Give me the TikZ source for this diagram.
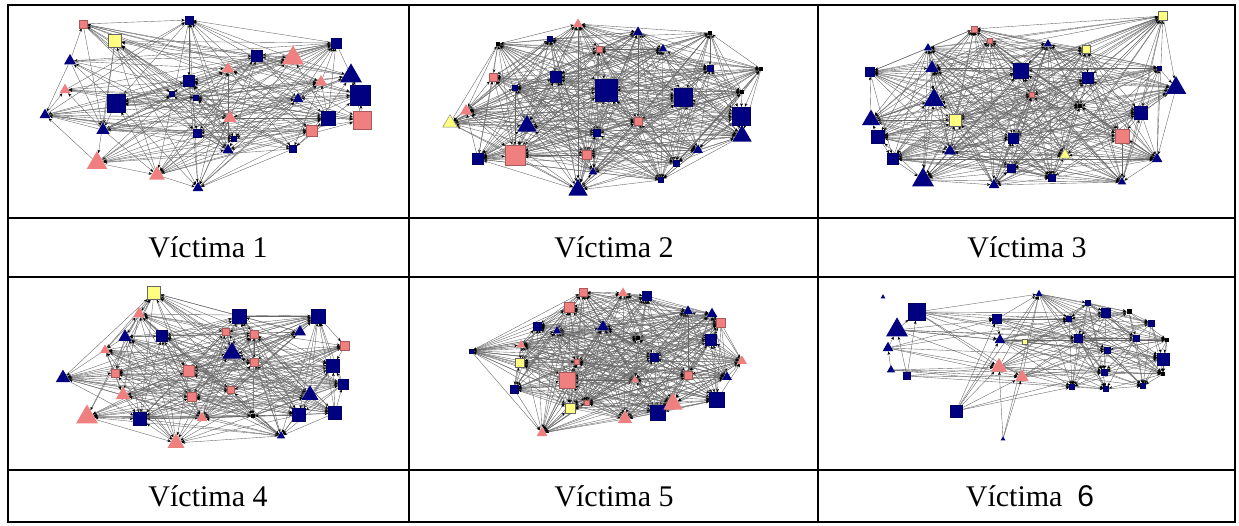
\documentclass[tikz,border=0pt]{standalone}
\usepackage{fontspec}
\setmainfont{Liberation Serif}
\setsansfont{Liberation Sans}
\usetikzlibrary{shapes.geometric,arrows.meta,backgrounds}
\definecolor{netblue}{RGB}{0,0,128}
\definecolor{netpink}{RGB}{240,128,128}
\definecolor{netyellow}{RGB}{255,255,128}
\begin{document}
\begin{tikzpicture}
[x=1pt,y=-1pt,>={Stealth[length=3.5pt,width=2.8pt,color=black]},
  bsq/.style={rectangle,fill=netblue,draw=netblue!80!black,line width=0.4pt,minimum size=#1,inner sep=0pt},%
  psq/.style={rectangle,fill=netpink,draw=netpink!70!black,line width=0.4pt,minimum size=#1,inner sep=0pt},%
  ysq/.style={rectangle,fill=netyellow,draw=black!60,line width=0.4pt,minimum size=#1,inner sep=0pt},%
  kdot/.style={rectangle,fill=black,minimum size=#1,inner sep=0pt},%
  btri/.style={regular polygon,regular polygon sides=3,fill=netblue,minimum size=1.4*#1,inner sep=0pt},%
  ptri/.style={regular polygon,regular polygon sides=3,fill=netpink,minimum size=1.4*#1,inner sep=0pt},%
  ytri/.style={regular polygon,regular polygon sides=3,fill=netyellow,draw=black!50,line width=0.4pt,minimum size=1.4*#1,inner sep=0pt},%
  linedecorate/.style={->,draw=black!60,line width=0.38pt},%
  tableline/.style={line width=1.5pt},%
  captext/.style={font=\fontsize{30}{36}\selectfont}]
\useasboundingbox (0,0) rectangle (1239,526);
% table
\draw[tableline] (8,5) rectangle (1235,522);
\draw[tableline] (8,218) -- (1235,218);
\draw[tableline] (8,277) -- (1235,277);
\draw[tableline] (8,470) -- (1235,470);
\draw[tableline] (409,5) -- (409,522);
\draw[tableline] (818,5) -- (818,522);
% captions
\node (cap1) at (208,247) [captext] {Víctima 1};
\node (cap2) at (614,247) [captext] {Víctima 2};
\node (cap3) at (1027,247) [captext] {Víctima 3};
\node (cap4) at (208,496) [captext] {Víctima 4};
\node (cap5) at (614,496) [captext] {Víctima 5};
\node (cap6) at (1030,496) [captext] {Víctima\ \ {\sffamily 6}};
% victim 1
\node (a1) at (83,24) [psq=8] {};
\node (a2) at (189,20) [bsq=8] {};
\node (a3) at (115,41) [ysq=13] {};
\node (a4) at (336,43) [bsq=10] {};
\node (a5) at (257,56) [bsq=11] {};
\node (a6) at (293,58) [ptri=18] {};
\node (a7) at (70,61) [btri=10] {};
\node (a8) at (228,69) [ptri=10] {};
\node (a9) at (351,76) [btri=18] {};
\node (a10) at (321,82) [ptri=10] {};
\node (a11) at (189,81) [bsq=11] {};
\node (a12) at (65,90) [ptri=9] {};
\node (a13) at (360,95) [bsq=20] {};
\node (a14) at (172,94) [bsq=5] {};
\node (a15) at (196,98) [bsq=5] {};
\node (a16) at (298,99) [btri=9] {};
\node (a17) at (116,103) [bsq=18] {};
\node (a18) at (45,115) [btri=9] {};
\node (a19) at (230,118) [ptri=11] {};
\node (a20) at (328,118) [bsq=14] {};
\node (a21) at (362,120) [psq=18] {};
\node (a22) at (103,130) [btri=11] {};
\node (a23) at (312,131) [psq=11] {};
\node (a24) at (197,133) [bsq=8] {};
\node (a25) at (234,139) [bsq=5] {};
\node (a26) at (228,150) [btri=9] {};
\node (a27) at (293,149) [bsq=7] {};
\node (a28) at (97,163) [ptri=17] {};
\node (a29) at (157,175) [ptri=13] {};
\node (a30) at (198,188) [btri=9] {};
% victim 2
\node (b1) at (578,24) [ptri=8] {};
\node (b2) at (638,32) [btri=8] {};
\node (b3) at (710,33) [kdot=4] {};
\node (b4) at (550,39) [bsq=5] {};
\node (b5) at (498,44) [kdot=4] {};
\node (b6) at (599,49) [psq=6] {};
\node (b7) at (663,49) [btri=7] {};
\node (b8) at (710,68) [bsq=6] {};
\node (b9) at (761,69) [kdot=4] {};
\node (b10) at (493,77) [psq=8] {};
\node (b11) at (556,77) [bsq=11] {};
\node (b12) at (515,88) [bsq=5] {};
\node (b13) at (606,90) [bsq=22] {};
\node (b14) at (683,97) [bsq=18] {};
\node (b15) at (742,92) [kdot=4] {};
\node (b16) at (466,111) [ptri=10] {};
\node (b17) at (450,123) [ytri=12] {};
\node (b18) at (527,126) [btri=16] {};
\node (b19) at (638,121) [psq=8] {};
\node (b20) at (741,116) [bsq=18] {};
\node (b21) at (597,133) [bsq=7] {};
\node (b22) at (742,136) [btri=16] {};
\node (b23) at (587,155) [psq=9] {};
\node (b24) at (478,159) [bsq=11] {};
\node (b25) at (515,155) [psq=20] {};
\node (b26) at (698,150) [btri=8] {};
\node (b27) at (676,163) [bsq=6] {};
\node (b28) at (593,172) [btri=7] {};
\node (b29) at (661,180) [bsq=5] {};
\node (b30) at (578,190) [btri=16] {};
% victim 3
\node (c1) at (1163,16) [ysq=9] {};
\node (c2) at (974,29) [psq=6] {};
\node (c3) at (990,41) [psq=5] {};
\node (c4) at (1048,44) [btri=7] {};
\node (c5) at (1086,49) [ysq=8] {};
\node (c6) at (928,48) [btri=7] {};
\node (c7) at (870,72) [bsq=9] {};
\node (c8) at (932,68) [btri=11] {};
\node (c9) at (1021,71) [bsq=15] {};
\node (c10) at (1088,78) [bsq=11] {};
\node (c11) at (1159,68) [bsq=4] {};
\node (c12) at (1176,88) [btri=17] {};
\node (c13) at (934,100) [btri=17] {};
\node (c14) at (1032,95) [psq=5] {};
\node (c15) at (1080,106) [kdot=4] {};
\node (c16) at (1141,113) [bsq=13] {};
\node (c17) at (871,120) [btri=15] {};
\node (c18) at (955,120) [ysq=12] {};
\node (c19) at (878,137) [bsq=13] {};
\node (c20) at (1013,138) [bsq=10] {};
\node (c21) at (1122,136) [psq=14] {};
\node (c22) at (950,151) [btri=10] {};
\node (c23) at (1065,155) [ytri=9] {};
\node (c24) at (893,159) [bsq=11] {};
\node (c25) at (1157,159) [btri=9] {};
\node (c26) at (1011,168) [bsq=8] {};
\node (c27) at (923,180) [btri=18] {};
\node (c28) at (994,185) [btri=9] {};
\node (c29) at (1052,178) [bsq=7] {};
\node (c30) at (1122,182) [btri=7] {};
% victim 4
\node (d1) at (154,293) [ysq=13] {};
\node (d2) at (139,314) [ptri=10] {};
\node (d3) at (239,316) [bsq=14] {};
\node (d4) at (318,316) [bsq=14] {};
\node (d5) at (125,337) [btri=11] {};
\node (d6) at (162,336) [bsq=11] {};
\node (d7) at (226,332) [psq=7] {};
\node (d8) at (254,334) [psq=8] {};
\node (d9) at (300,332) [btri=10] {};
\node (d10) at (105,350) [ptri=8] {};
\node (d11) at (345,346) [psq=9] {};
\node (d12) at (232,353) [btri=16] {};
\node (d13) at (254,362) [psq=8] {};
\node (d14) at (333,366) [bsq=13] {};
\node (d15) at (63,378) [btri=12] {};
\node (d16) at (115,373) [psq=8] {};
\node (d17) at (189,371) [psq=11] {};
\node (d18) at (343,384) [bsq=10] {};
\node (d19) at (123,395) [ptri=12] {};
\node (d20) at (192,397) [psq=9] {};
\node (d21) at (231,390) [psq=7] {};
\node (d22) at (310,395) [btri=14] {};
\node (d23) at (87,417) [ptri=18] {};
\node (d24) at (140,419) [bsq=13] {};
\node (d25) at (202,418) [ptri=9] {};
\node (d26) at (253,416) [kdot=4] {};
\node (d27) at (299,415) [bsq=13] {};
\node (d28) at (335,413) [bsq=13] {};
\node (d29) at (281,436) [btri=7] {};
\node (d30) at (176,443) [ptri=14] {};
% victim 5
\node (e1) at (583,292) [psq=8] {};
\node (e2) at (623,293) [ptri=8] {};
\node (e3) at (647,296) [bsq=9] {};
\node (e4) at (569,307) [psq=10] {};
\node (e5) at (688,311) [btri=8] {};
\node (e6) at (712,314) [btri=9] {};
\node (e7) at (721,323) [psq=9] {};
\node (e8) at (537,326) [bsq=8] {};
\node (e9) at (557,331) [btri=7] {};
\node (e10) at (603,327) [btri=10] {};
\node (e11) at (638,338) [kdot=4] {};
\node (e12) at (711,340) [bsq=11] {};
\node (e13) at (471,351) [bsq=4] {};
\node (e14) at (521,345) [ptri=7] {};
\node (e15) at (520,363) [ysq=9] {};
\node (e16) at (577,362) [psq=5] {};
\node (e17) at (654,357) [bsq=8] {};
\node (e18) at (742,361) [ptri=8] {};
\node (e19) at (567,380) [psq=16] {};
\node (e20) at (635,380) [ptri=6] {};
\node (e21) at (688,375) [psq=8] {};
\node (e22) at (727,377) [btri=8] {};
\node (e23) at (514,389) [bsq=8] {};
\node (e24) at (570,408) [ysq=10] {};
\node (e25) at (587,403) [psq=5] {};
\node (e26) at (658,413) [bsq=15] {};
\node (e27) at (673,404) [ptri=16] {};
\node (e28) at (717,400) [bsq=15] {};
\node (e29) at (625,419) [ptri=12] {};
\node (e30) at (542,433) [ptri=9] {};
% victim 6
\node (f1) at (883,297) [btri=4] {};
\node (f2) at (917,312) [bsq=17] {};
\node (f3) at (897,330) [btri=18] {};
\node (f4) at (888,348) [btri=9] {};
\node (f5) at (891,370) [btri=7] {};
\node (f6) at (907,376) [bsq=7] {};
\node (f7) at (997,319) [bsq=9] {};
\node (f8) at (1000,340) [btri=9] {};
\node (f9) at (1025,342) [ysq=5] {};
\node (f10) at (999,367) [ptri=13] {};
\node (f11) at (1022,377) [ptri=11] {};
\node (f12) at (956,411) [bsq=12] {};
\node (f13) at (1003,439) [btri=4] {};
\node (f14) at (1039,294) [btri=6] {};
\node (f15) at (1088,303) [bsq=5] {};
\node (f16) at (1106,313) [bsq=9] {};
\node (f17) at (1129,312) [kdot=5] {};
\node (f18) at (1069,319) [bsq=5] {};
\node (f19) at (1151,323) [bsq=6] {};
\node (f20) at (1078,338) [bsq=8] {};
\node (f21) at (1136,338) [bsq=6] {};
\node (f22) at (1167,340) [kdot=4] {};
\node (f23) at (1107,350) [bsq=6] {};
\node (f24) at (1163,359) [bsq=12] {};
\node (f25) at (1104,372) [bsq=6] {};
\node (f26) at (1163,374) [kdot=4] {};
\node (f27) at (1072,387) [bsq=5] {};
\node (f28) at (1106,389) [bsq=5] {};
\node (f29) at (1143,386) [bsq=5] {};
% edges or lines
\begin{pgfonlayer}{background}
\foreach \p/\d in {a/50,b/80,c/75,d/62,e/82}{
  \foreach \i in {1,...,29}{
    \pgfmathtruncatemacro\k{\i+1}
    \foreach \j in {\k,...,30}{
      \pgfmathtruncatemacro\keep{mod(\i*\i*5+\j*\j*3+\i*\j*2+\j*7,97)<\d}
      \ifnum\keep=1
        \ifodd\numexpr\i+\j\relax \path (\p\i) edge[linedecorate] (\p\j);
        \else \path (\p\j) edge[linedecorate] (\p\i); \fi
      \fi
    }
  }
}
\foreach \i in {7,...,28}{
  \pgfmathtruncatemacro\k{\i+1}
  \foreach \j in {\k,...,29}{
    \pgfmathtruncatemacro\keep{and(mod(\i*\i*5+\j*\j*3+\i*\j*2+\j*7,97)<62,and(\i!=12,and(\i!=13,and(\j!=12,\j!=13))))}
    \ifnum\keep=1 \path (f\i) edge[linedecorate] (f\j); \fi
  }
}
\foreach \i/\j in {2/7,2/8,2/10,2/11,2/14,2/16,2/20,2/24,2/18,3/2,3/7,3/8,3/10,
  3/20,3/23,3/22,4/3,4/7,4/10,4/11,4/24,4/18,5/4,5/10,5/11,5/28,5/26,6/2,6/3,
  6/10,6/11,6/27,12/7,12/8,12/10,12/11,12/14,12/27,12/25,13/10,13/11,13/14}
  \path (f\i) edge[linedecorate] (f\j);
\end{pgfonlayer}
\end{tikzpicture}
\end{document}
